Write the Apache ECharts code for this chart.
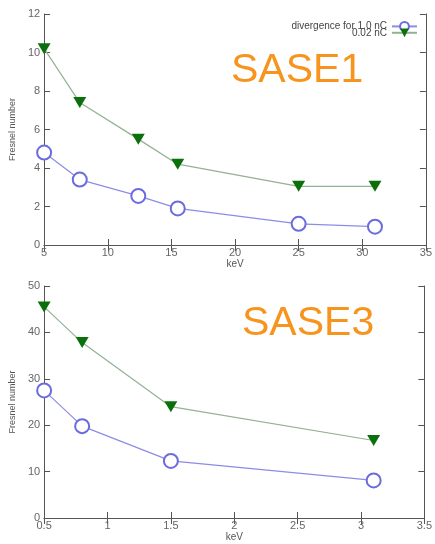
<!DOCTYPE html>
<html><head><meta charset="utf-8">
<script src="https://cdn.jsdelivr.net/npm/echarts@6/dist/echarts.min.js"></script>
<style>html,body{margin:0;padding:0;background:#fff}#c{width:435px;height:544px}</style>
</head><body><div id="c"></div>
<script>
// SASE1 (top panel)
const sase1Energy = [5, 7.8, 12.4, 15.5, 25, 31];
const sase1Div10nC = [4.8, 3.4, 2.55, 1.9, 1.1, 0.95];
const sase1Div002nC = [10.2, 7.4, 5.5, 4.2, 3.05, 3.05];
// SASE3 (bottom panel)
const sase3Energy = [0.5, 0.8, 1.5, 3.1];
const sase3Div10nC = [27.5, 19.8, 12.3, 8.1];
const sase3Div002nC = [45.5, 37.8, 24, 16.7];

const seriesNames = ['divergence for 1.0 nC', '0.02 nC'];
const panelTitles = ['SASE1', 'SASE3'];

const blue = '#6b6be0', blueLine = '#8c8ce6';
const green = '#0b700b', greenLine = '#93b193';
const axisCol = '#555';
const tri = 'path://M0,0 L10,0 L5,8.5 Z';

function pairs(xs, ys){ return xs.map((x,i)=>[x, ys[i]]); }

function mkX(grid, min, max, interval, show){
  return {type:'value', gridIndex:grid, min, max, interval,
    position: show ? 'bottom' : 'top',
    name: show ? 'keV' : '', nameLocation:'middle', nameGap: 12,
    nameTextStyle:{color:'#555', fontSize:10, fontFamily:'Liberation Sans'},
    axisLine:{show:true, lineStyle:{color:axisCol, width:1}},
    axisTick:{show:true, inside:true, length:6, lineStyle:{color:axisCol}},
    axisLabel:{show:show, color:'#666', fontSize:11, margin:2, fontFamily:'Liberation Sans', showMaxLabel:true},
    splitLine:{show:false}};
}
function mkY(grid, min, max, interval, show){
  return {type:'value', gridIndex:grid, min, max, interval,
    position: show ? 'left' : 'right',
    name: show ? 'Fresnel number' : '', nameLocation:'middle', nameGap: 17, nameRotate: 90,
    nameTextStyle:{color:'#555', fontSize:9, fontFamily:'Liberation Sans'},
    axisLine:{show:true, lineStyle:{color:axisCol, width:1}},
    axisTick:{show:true, inside:true, length:6, lineStyle:{color:axisCol}},
    axisLabel:{show:show, color:'#666', fontSize:11, margin:4, fontFamily:'Liberation Sans'},
    splitLine:{show:false}};
}

const chart = echarts.init(document.getElementById('c'), null, {renderer:'canvas'});
chart.setOption({
  animation:false,
  backgroundColor:'#fff',
  grid:[
    {left:39, right:3, top:14, height:231},
    {left:40, right:2, top:286, height:232}
  ],
  xAxis:[
    mkX(0,5,35,5,true), mkX(0,5,35,5,false),
    mkX(1,0.5,3.5,0.5,true), mkX(1,0.5,3.5,0.5,false)
  ],
  yAxis:[
    mkY(0,0,12,2,true), mkY(0,0,12,2,false),
    mkY(1,0,50,10,true), mkY(1,0,50,10,false)
  ],
  legend:{
    right:12, top:16, orient:'vertical', align:'right', itemGap:-4,
    itemWidth:25, itemHeight:11,
    textStyle:{fontSize:10, color:'#444', fontFamily:'Liberation Sans', padding:[0,0,0,0]},
    data:[seriesNames[0], seriesNames[1]]
  },
  graphic:[
    {type:'text', left:231, top:50, style:{text:panelTitles[0], fill:'#f7941d', fontSize:41, fontFamily:'Liberation Sans'}},
    {type:'text', left:242, top:303, style:{text:panelTitles[1], fill:'#f7941d', fontSize:41, fontFamily:'Liberation Sans'}}
  ],
  series:[
    {name:seriesNames[0], type:'line', xAxisIndex:0, yAxisIndex:0, data:pairs(sase1Energy, sase1Div10nC),
      symbol:'emptyCircle', symbolSize:14, itemStyle:{color:blue, borderWidth:1.2}, lineStyle:{color:blueLine, width:1.2}, z:3},
    {name:seriesNames[1], type:'line', xAxisIndex:0, yAxisIndex:0, data:pairs(sase1Energy, sase1Div002nC),
      symbol:tri, symbolSize:[13,11], itemStyle:{color:green}, lineStyle:{color:greenLine, width:1.2}, z:3},
    {name:seriesNames[0], type:'line', xAxisIndex:2, yAxisIndex:2, data:pairs(sase3Energy, sase3Div10nC),
      symbol:'emptyCircle', symbolSize:14, itemStyle:{color:blue, borderWidth:1.2}, lineStyle:{color:blueLine, width:1.2}, z:3},
    {name:seriesNames[1], type:'line', xAxisIndex:2, yAxisIndex:2, data:pairs(sase3Energy, sase3Div002nC),
      symbol:tri, symbolSize:[13,11], itemStyle:{color:green}, lineStyle:{color:greenLine, width:1.2}, z:3}
  ]
});
</script></body></html>
